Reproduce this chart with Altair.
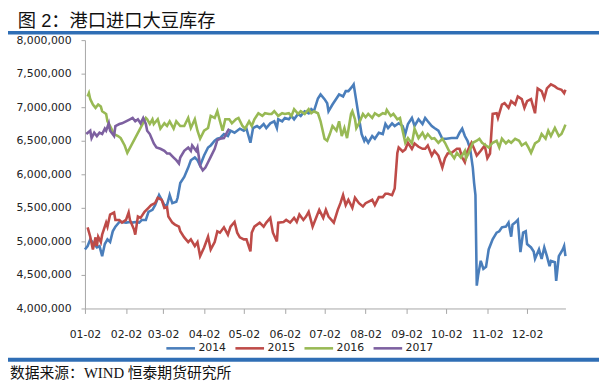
import altair as alt
import pandas as pd

TITLE = "图 2：港口进口大豆库存"
SOURCE = "数据来源：WIND 恒泰期货研究所"
YEARS = ["2014", "2015", "2016", "2017"]
COLORS = ["#4a7ebb", "#be4b48", "#98b954", "#7d60a0"]
TICK_LABELS = ["01-02", "02-02", "03-02", "04-02", "05-02", "06-02",
               "07-02", "08-02", "09-02", "10-02", "11-02", "12-02"]
Y_TICKS = [4000000, 4500000, 5000000, 5500000, 6000000,
           6500000, 7000000, 7500000, 8000000]
UNIT = 1000  # values below are in thousands of tonnes

dates_2014 = ["01-02", "01-04", "01-06", "01-09", "01-11", "01-13", "01-15", "01-17", "01-19", "01-21",
              "01-23", "01-25", "01-28", "01-30", "02-02", "02-05", "02-07", "02-09", "02-12", "02-14",
              "02-17", "02-19", "02-22", "02-24", "02-27", "03-01", "03-03", "03-05", "03-07", "03-09",
              "03-12", "03-13", "03-15", "03-18", "03-21", "03-23", "03-26", "03-28", "03-30", "04-02",
              "04-05", "04-07", "04-10", "04-12", "04-14", "04-17", "04-20", "04-22", "04-25", "04-27",
              "04-29", "05-02", "05-04", "05-07", "05-09", "05-12", "05-14", "05-17", "05-19", "05-22",
              "05-25", "05-27", "05-28", "05-31", "06-02", "06-05", "06-07", "06-09", "06-12", "06-14",
              "06-17", "06-20", "06-22", "06-24", "06-27", "06-29", "07-02", "07-04", "07-05", "07-08",
              "07-11", "07-13", "07-16", "07-18", "07-20", "07-23", "07-24", "07-26", "07-28", "07-30",
              "08-01", "08-02", "08-04", "08-07", "08-09", "08-12", "08-15", "08-17", "08-19", "08-22",
              "08-24", "08-27", "08-30", "09-01", "09-03", "09-06", "09-08", "09-11", "09-14", "09-16",
              "09-18", "09-21", "09-23", "09-26", "09-29", "10-02", "10-06", "10-10", "10-12", "10-14",
              "10-16", "10-18", "10-20", "10-22", "10-23", "10-24", "10-25", "10-26", "10-28", "10-30",
              "11-01", "11-03", "11-06", "11-09", "11-11", "11-13", "11-16", "11-18", "11-20", "11-21",
              "11-23", "11-25", "11-27", "11-29", "12-01", "12-02", "12-05", "12-07", "12-08", "12-11",
              "12-13", "12-15", "12-17", "12-19", "12-20", "12-23", "12-24", "12-26", "12-29", "12-30",
              "12-31"]
values_2014 = [4880, 4930, 5030, 4960, 4910, 4930, 4780, 4960, 5030, 4990,
               5150, 5220, 5290, 5290, 5280, 5290, 5280, 5290, 5280, 5320,
               5320, 5440, 5470, 5540, 5690, 5620, 5540, 5540, 5690, 5570,
               5590, 5650, 5870, 5960, 6100, 6210, 6250, 6210, 6130, 6280,
               6400, 6430, 6500, 6530, 6540, 6600, 6570, 6650, 6620, 6650,
               6680, 6650, 6680, 6470, 6690, 6720, 6690, 6750, 6690, 6760,
               6790, 6690, 6820, 6790, 6840, 6820, 6870, 6820, 6900, 6870,
               6940, 6910, 6970, 6940, 7130, 7190, 7120, 7060, 6940, 7040,
               7130, 7190, 7160, 7240, 7240, 7310, 7340, 7090, 6840, 6600,
               6500, 6540, 6470, 6570, 6530, 6620, 6600, 6750, 6690, 6760,
               6720, 6760, 6720, 6600, 6750, 6840, 6720, 6820, 6750, 6840,
               6790, 6720, 6690, 6650, 6530, 6530, 6540, 6540, 6620, 6680,
               6570, 6500, 6380, 6100, 5870, 5690, 4340, 4490, 4710, 4590,
               4620, 4880, 5030, 5130, 5150, 5210, 5220, 5280, 5070, 5250,
               5280, 5320, 4840, 5130, 5150, 4960, 4910, 4850, 4740, 4880,
               4740, 4910, 4780, 4630, 4710, 4690, 4410, 4780, 4880, 4930,
               4780]

dates_2015 = ["01-04", "01-06", "01-08", "01-10", "01-11", "01-12", "01-14", "01-15", "01-18", "01-19",
              "01-21", "01-24", "01-25", "01-28", "01-30", "02-02", "02-04", "02-05", "02-08", "02-09",
              "02-11", "02-13", "02-16", "02-19", "02-21", "02-24", "02-26", "03-01", "03-03", "03-05",
              "03-06", "03-09", "03-11", "03-14", "03-15", "03-18", "03-21", "03-23", "03-26", "03-28",
              "03-30", "04-02", "04-05", "04-07", "04-10", "04-12", "04-14", "04-17", "04-20", "04-22",
              "04-25", "04-27", "04-29", "05-02", "05-04", "05-07", "05-08", "05-10", "05-14", "05-17",
              "05-19", "05-22", "05-24", "05-27", "05-28", "06-01", "06-03", "06-06", "06-09", "06-11",
              "06-13", "06-16", "06-18", "06-20", "06-23", "06-26", "06-28", "07-01", "07-03", "07-05",
              "07-09", "07-12", "07-14", "07-16", "07-18", "07-20", "07-23", "07-25", "07-28", "07-31",
              "08-02", "08-04", "08-07", "08-09", "08-12", "08-15", "08-17", "08-19", "08-22", "08-24",
              "08-26", "08-27", "08-30", "09-01", "09-03", "09-06", "09-08", "09-11", "09-14", "09-16",
              "09-18", "09-21", "09-23", "09-26", "09-29", "10-01", "10-03", "10-06", "10-08", "10-10",
              "10-12", "10-14", "10-16", "10-18", "10-21", "10-23", "10-25", "10-28", "10-31", "11-02",
              "11-04", "11-06", "11-09", "11-10", "11-13", "11-15", "11-18", "11-20", "11-23", "11-25",
              "11-28", "11-30", "12-02", "12-05", "12-08", "12-10", "12-13", "12-15", "12-17", "12-20",
              "12-23", "12-25", "12-28", "12-30", "12-31"]
values_2015 = [5210, 5070, 4880, 5060, 4930, 5070, 4990, 5100, 5280, 5220,
               5400, 5430, 5320, 5320, 5280, 5320, 5430, 5320, 5180, 5100,
               5370, 5350, 5440, 5500, 5540, 5570, 5650, 5620, 5500, 5510,
               5370, 5280, 5250, 5220, 5150, 5060, 4990, 5030, 4930, 4990,
               4780, 4910, 5070, 4880, 4990, 5150, 5130, 5210, 5100, 5220,
               5290, 5130, 5060, 5030, 5030, 4850, 5130, 5220, 5280, 5220,
               5280, 5350, 5130, 5000, 5280, 5290, 5320, 5280, 5350, 5290,
               5400, 5320, 5370, 5440, 5220, 5370, 5470, 5350, 5470, 5370,
               5280, 5470, 5570, 5690, 5540, 5620, 5500, 5650, 5570, 5520,
               5570, 5590, 5620, 5540, 5660, 5660, 5710, 5710, 5690, 5790,
               6320, 6400, 6340, 6370, 6470, 6380, 6460, 6410, 6380, 6380,
               6430, 6280, 6350, 6280, 6100, 6240, 6310, 6320, 6350, 6380,
               6380, 6250, 6180, 6350, 6470, 6380, 6280, 6350, 6430, 6240,
               6310, 6900, 6910, 6840, 7040, 7060, 6990, 7090, 7040, 7160,
               7120, 6990, 7090, 7120, 6910, 7280, 7240, 7130, 7280, 7340,
               7310, 7280, 7260, 7210, 7260]

dates_2016 = ["01-04", "01-05", "01-06", "01-08", "01-10", "01-12", "01-14", "01-15", "01-18", "01-19",
              "01-21", "01-24", "01-27", "01-29", "02-01", "02-03", "02-17", "02-18", "02-20", "02-22",
              "02-23", "02-26", "02-28", "03-03", "03-05", "03-07", "03-10", "03-12", "03-15", "03-18",
              "03-21", "03-23", "03-26", "03-28", "03-30", "04-02", "04-05", "04-07", "04-10", "04-12",
              "04-14", "04-16", "04-18", "04-21", "04-23", "04-26", "04-28", "05-01", "05-03", "05-06",
              "05-08", "05-10", "05-13", "05-16", "05-18", "05-21", "05-23", "05-25", "05-28", "05-31",
              "06-02", "06-05", "06-07", "06-09", "06-12", "06-14", "06-17", "06-20", "06-22", "06-24",
              "06-27", "06-29", "07-02", "07-04", "07-06", "07-08", "07-11", "07-13", "07-15", "07-17",
              "07-19", "07-22", "07-23", "07-25", "07-26", "07-28", "07-31", "08-02", "08-04", "08-07",
              "08-09", "08-12", "08-15", "08-17", "08-18", "08-21", "08-23", "08-26", "08-28", "08-30",
              "09-01", "09-03", "09-06", "09-08", "09-11", "09-14", "09-16", "09-18", "09-21", "09-23",
              "09-26", "09-29", "10-01", "10-04", "10-08", "10-10", "10-13", "10-16", "10-17", "10-19",
              "10-22", "10-25", "10-27", "10-29", "11-01", "11-03", "11-06", "11-09", "11-11", "11-13",
              "11-16", "11-18", "11-20", "11-23", "11-26", "11-28", "12-01", "12-03", "12-05", "12-08",
              "12-11", "12-13", "12-16", "12-18", "12-20", "12-23", "12-26", "12-28", "12-30", "12-31"]
values_2016 = [7160, 7210, 7120, 7040, 6990, 7040, 7010, 6940, 6900, 6790,
               6720, 6600, 6570, 6540, 6430, 6320, 6840, 6820, 6750, 6820,
               6750, 6820, 6680, 6760, 6720, 6790, 6680, 6790, 6720, 6720,
               6840, 6690, 6820, 6650, 6530, 6650, 6690, 6870, 6840, 6940,
               6790, 6650, 6820, 6820, 6760, 6820, 6840, 6720, 6680, 6790,
               6720, 6820, 6910, 6870, 6910, 6900, 6900, 6940, 6870, 6910,
               6900, 6910, 6870, 6970, 6900, 6940, 6900, 6970, 6910, 6940,
               6910, 6790, 6530, 6500, 6600, 6720, 6650, 6790, 6570, 6690,
               6540, 6900, 6940, 6820, 6690, 6760, 6900, 6850, 6900, 6840,
               6910, 6870, 6910, 6900, 6960, 6870, 6900, 6820, 6840, 6650,
               6470, 6540, 6460, 6680, 6540, 6620, 6540, 6600, 6530, 6540,
               6470, 6530, 6470, 6350, 6240, 6320, 6250, 6350, 6240, 6320,
               6470, 6500, 6530, 6470, 6430, 6400, 6470, 6500, 6400, 6530,
               6460, 6500, 6470, 6530, 6500, 6430, 6470, 6400, 6320, 6460,
               6500, 6600, 6530, 6650, 6570, 6690, 6570, 6600, 6690, 6740]

dates_2017 = ["01-03", "01-06", "01-07", "01-09", "01-11", "01-13", "01-15", "01-17", "01-18", "01-20",
              "01-21", "01-24", "01-25", "01-28", "01-30", "02-02", "02-05", "02-07", "02-09", "02-11",
              "02-13", "02-15", "02-17", "02-18", "02-20", "02-23", "02-25", "02-28", "03-03", "03-05",
              "03-07", "03-10", "03-12", "03-14", "03-15", "03-18", "03-21", "03-23", "03-24", "03-27",
              "03-28", "03-30", "04-01", "04-03", "04-05", "04-07", "04-10", "04-12", "04-14", "04-17",
              "04-20", "04-21"]
values_2017 = [6600, 6650, 6540, 6620, 6570, 6620, 6600, 6680, 6650, 6760,
               6650, 6570, 6720, 6750, 6760, 6790, 6820, 6840, 6790, 6820,
               6760, 6840, 6750, 6650, 6600, 6460, 6400, 6380, 6350, 6310,
               6310, 6250, 6210, 6160, 6250, 6350, 6400, 6350, 6430, 6350,
               6400, 6130, 6060, 6100, 6180, 6260, 6380, 6510, 6530, 6540,
               6650, 6680]

SERIES = {
    "2014": (dates_2014, values_2014),
    "2015": (dates_2015, values_2015),
    "2016": (dates_2016, values_2016),
    "2017": (dates_2017, values_2017),
}

ORIGIN = pd.Timestamp("2001-01-02")


def day_offset(mmdd):
    return (pd.Timestamp("2001-" + mmdd) - ORIGIN).days


rows = []
for year, (dates, values) in SERIES.items():
    for d, v in zip(dates, values):
        rows.append({"year": year, "date": d, "day": day_offset(d), "value": v * UNIT})
df = pd.DataFrame(rows)

tick_days = [day_offset(t) for t in TICK_LABELS]
label_expr = "[" + ",".join("'%s'" % t for t in TICK_LABELS) + "][indexof([" + \
    ",".join(str(t) for t in tick_days) + "], datum.value)]"

AXIS_GRAY = "#a6a6a6"
FONT = "DejaVu Sans"

lines = alt.Chart(df).mark_line(strokeWidth=2.6).encode(
    x=alt.X("day:Q",
            scale=alt.Scale(domain=[0, 363], nice=False, zero=False),
            axis=alt.Axis(values=tick_days, labelExpr=label_expr, title=None, grid=False,
                          domainColor=AXIS_GRAY, tickColor=AXIS_GRAY, tickSize=5,
                          labelPadding=15, labelFont=FONT, labelFontSize=11,
                          labelColor="#222222", labelFlush=False, labelOverlap=False)),
    y=alt.Y("value:Q",
            scale=alt.Scale(domain=[4000000, 8000000], nice=False, zero=False),
            axis=alt.Axis(values=Y_TICKS, format=",.0f", title=None, grid=False,
                          domainColor=AXIS_GRAY, tickColor=AXIS_GRAY, tickSize=4,
                          labelPadding=10, labelFont=FONT, labelFontSize=11,
                          labelColor="#222222", labelFlush=False, labelOverlap=False)),
    color=alt.Color("year:N",
                    scale=alt.Scale(domain=YEARS, range=COLORS),
                    legend=alt.Legend(orient="none", legendX=81, legendY=296,
                                      direction="horizontal", title=None,
                                      symbolType="stroke", symbolSize=841,
                                      symbolStrokeWidth=2.6, labelFont=FONT,
                                      labelFontSize=11, labelColor="#222222",
                                      labelOffset=2, columnPadding=4)),
    detail="year:N",
)

deco = pd.DataFrame({"t": [TITLE]})
src = pd.DataFrame({"t": [SOURCE]})
BAND = "#2f6eb5"

title_text = alt.Chart(deco).mark_text(
    align="left", baseline="alphabetic", font="Liberation Sans, Noto Sans CJK SC",
    fontSize=18.5, color="#111111"
).encode(x=alt.value(-68), y=alt.value(-13.5), text="t:N")

source_text = alt.Chart(src).mark_text(
    align="left", baseline="middle", font="Liberation Serif, Noto Sans CJK SC",
    fontSize=15, color="#111111"
).encode(x=alt.value(-76), y=alt.value(337), text="t:N")

top_band = alt.Chart(deco).mark_rule(color=BAND, strokeWidth=3.5).encode(
    x=alt.value(-78), x2=alt.value(521), y=alt.value(-7.5))
bottom_band = alt.Chart(deco).mark_rule(color=BAND, strokeWidth=4).encode(
    x=alt.value(-78), x2=alt.value(521), y=alt.value(324))

chart = alt.layer(lines, title_text, source_text, top_band, bottom_band).properties(
    width=487, height=272,
    autosize=alt.AutoSizeParams(type="none"),
    padding={"left": 78, "top": 30, "right": 34, "bottom": 75},
    background="white",
).configure_view(strokeWidth=0)

chart.save("out.html", embed_options={"renderer": "svg", "actions": False})
